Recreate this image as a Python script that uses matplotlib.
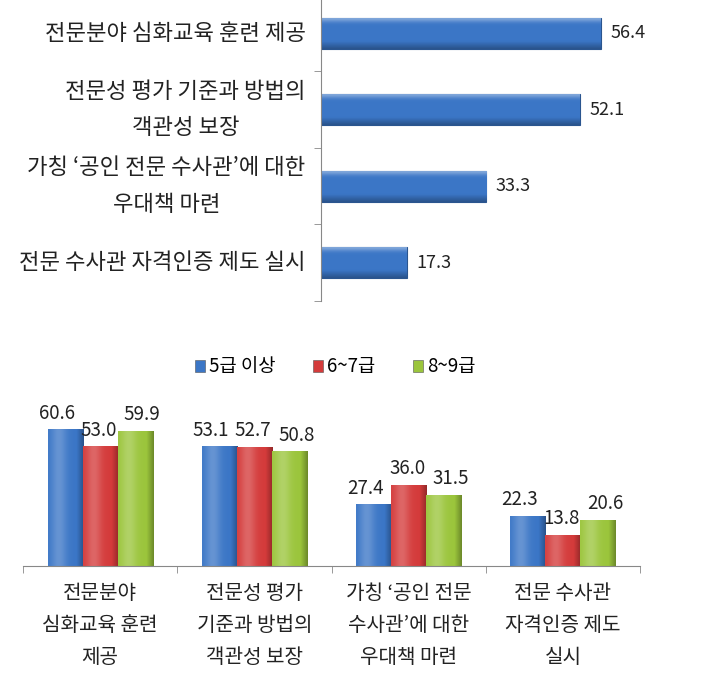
import matplotlib
matplotlib.use('Agg')
import matplotlib.pyplot as plt
import numpy as np
from matplotlib.patches import Patch
from matplotlib.colors import to_rgb

plt.rcParams['font.family'] = ['Noto Sans CJK KR', 'DejaVu Sans']

# top chart: overall
top_labels = ['전문분야 심화교육 훈련 제공',
              '전문성 평가 기준과 방법의\n객관성 보장',
              '가칭 \u2018공인 전문 수사관\u2019에 대한\n우대책 마련',
              '전문 수사관 자격인증 제도 실시']
top_values = [56.4, 52.1, 33.3, 17.3]

# bottom chart: by rank
groups = ['5급 이상', '6~7급', '8~9급']
bottom_labels = ['전문분야\n심화교육 훈련\n제공',
                 '전문성 평가\n기준과 방법의\n객관성 보장',
                 '가칭 \u2018공인 전문\n수사관\u2019에 대한\n우대책 마련',
                 '전문 수사관\n자격인증 제도\n실시']
vals_5 = [60.6, 53.1, 27.4, 22.3]
vals_67 = [53.0, 52.7, 36.0, 13.8]
vals_89 = [59.9, 50.8, 31.5, 20.6]

blue = '#3b76c6'
red = '#d43b3b'
green = '#9bc53c'
colors = [blue, red, green]

W, H = 709, 698
fig = plt.figure(figsize=(W / 100, H / 100), dpi=100)


def px_axes(left, top, right, bottom):
    return fig.add_axes([left / W, 1 - bottom / H, (right - left) / W, (bottom - top) / H])


def shade(c, a):
    c = np.array(to_rgb(c))
    a = np.asarray(a)[:, None]
    light = c + (1 - c) * np.clip(a, 0, None)
    dark = c * (1 + np.clip(a, None, 0))
    return np.where(a >= 0, light, dark)


def bevel(ax, patch, color, vertical):
    # fake the excel bevel look with a gradient clipped to the bar
    t = np.linspace(0, 1, 64)
    if vertical:
        a = 0.22 * np.exp(-((t - 0.3) / 0.22) ** 2) - 0.3 * np.clip((t - 0.8) / 0.2, 0, 1)
        img = shade(color, a)[None, :, :]
    else:
        a = 0.35 * np.exp(-(t / 0.12) ** 2) - 0.3 * np.clip((t - 0.75) / 0.25, 0, 1)
        img = shade(color, a)[:, None, :]
    x0, y0 = patch.get_x(), patch.get_y()
    x1, y1 = x0 + patch.get_width(), y0 + patch.get_height()
    if vertical:
        ext = [x0, x1, y0, y1]
    else:
        ext = [x0, x1, y1, y0]
    im = ax.imshow(img, extent=ext, aspect='auto', origin='upper', interpolation='bilinear',
                   zorder=patch.get_zorder() + 0.1)
    im.set_clip_path(patch)


# ---- top horizontal bars ----
ax1 = px_axes(321, -5, 709, 301)
y = np.arange(len(top_values))
bars = ax1.barh(y, top_values, height=0.4, color=blue, edgecolor='#2a558f', linewidth=0.8)
for p in bars:
    bevel(ax1, p, blue, vertical=False)
for yi, v in zip(y, top_values):
    ax1.annotate(f'{v:.1f}', (v, yi), xytext=(7, 0), textcoords='offset points',
                 va='center', ha='left', fontsize=13, color='#222222')
ax1.set_ylim(3.5, -0.5)
ax1.set_xlim(0, 78.2)
ax1.set_yticks(y)
ax1.set_yticklabels(top_labels, fontsize=16, multialignment='center', linespacing=1.75,
                    color='#222222')
for t in ax1.get_yticklabels():
    t.set_va('center')
ax1.set_yticks([-0.5, 0.5, 1.5, 2.5, 3.5], minor=True)
ax1.tick_params(axis='y', which='major', length=0, pad=11)
ax1.tick_params(axis='y', which='minor', length=5, color='#888888')
ax1.set_xticks([])
for s in ['top', 'right', 'bottom']:
    ax1.spines[s].set_visible(False)
ax1.spines['left'].set_color('#888888')

# ---- bottom grouped bars ----
ax2 = px_axes(23, 408, 640, 566)
x = np.arange(len(bottom_labels))
bw = 0.227
label_shift = [-6, -1, 5]
for i, (vals, c) in enumerate(zip([vals_5, vals_67, vals_89], colors)):
    xs = x + (i - 1) * bw
    bars = ax2.bar(xs, vals, width=bw, color=c, edgecolor='#666666', linewidth=0.4)
    for p in bars:
        bevel(ax2, p, c, vertical=True)
    for xi, v in zip(xs, vals):
        ax2.annotate(f'{v:.1f}', (xi, v), xytext=(label_shift[i], 4), textcoords='offset points',
                     ha='center', va='bottom', fontsize=13.5, color='#222222')
ax2.set_xlim(-0.5, 3.5)
ax2.set_ylim(0, 70)
ax2.set_yticks([])
ax2.set_xticks(x)
ax2.set_xticklabels(bottom_labels, fontsize=14.5, linespacing=1.7, color='#222222')
ax2.set_xticks([-0.5, 0.5, 1.5, 2.5, 3.5], minor=True)
ax2.tick_params(axis='x', which='major', length=0, pad=12)
ax2.tick_params(axis='x', which='minor', length=5, color='#888888')
for s in ['top', 'right', 'left']:
    ax2.spines[s].set_visible(False)
ax2.spines['bottom'].set_color('#888888')

handles = [Patch(facecolor=c, edgecolor='#555555', linewidth=0.4) for c in colors]
fig.legend(handles, groups, loc='center', bbox_to_anchor=(335 / W, 1 - 367 / H), ncol=3,
           frameon=False, fontsize=13.5, handlelength=0.55, handleheight=0.55,
           handletextpad=0.2, columnspacing=2.0)

fig.savefig('out.png', dpi=100, facecolor='white')
